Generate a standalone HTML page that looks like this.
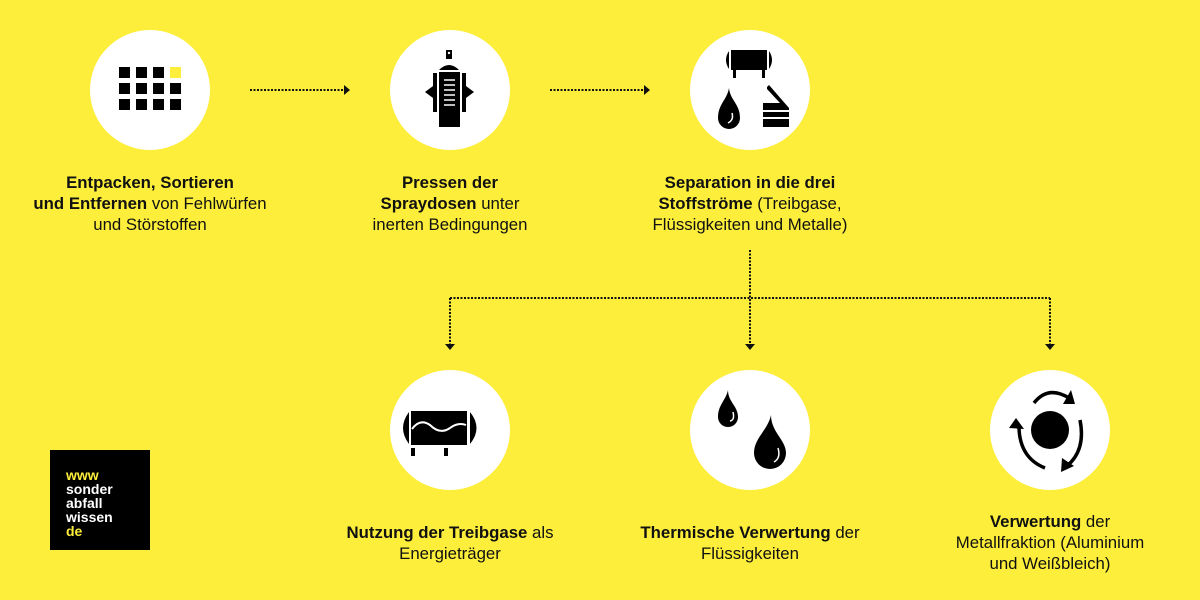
<!DOCTYPE html>
<html><head><meta charset="utf-8"><style>
html,body{margin:0;padding:0;background:#fcee3a;}
svg{display:block}
text{font-family:"Liberation Sans",sans-serif;font-size:16.8px;fill:#111;}
.b{font-weight:bold}
</style></head><body>
<svg width="1200" height="600" viewBox="0 0 1200 600" xmlns="http://www.w3.org/2000/svg">
<rect width="1200" height="600" fill="#fcee3a"/>
<g fill="#fff">
<circle cx="150" cy="90" r="60"/><circle cx="450" cy="90" r="60"/><circle cx="750" cy="90" r="60"/>
<circle cx="450" cy="430" r="60"/><circle cx="750" cy="430" r="60"/><circle cx="1050" cy="430" r="60"/>
</g>
<g stroke="#111" stroke-width="2" stroke-dasharray="2,1.5" fill="none">
<line x1="250" y1="90" x2="345" y2="90"/>
<line x1="550" y1="90" x2="645" y2="90"/>
<line x1="750" y1="250" x2="750" y2="344"/>
<line x1="450" y1="298" x2="1050" y2="298"/>
<line x1="450" y1="298" x2="450" y2="344"/>
<line x1="1050" y1="298" x2="1050" y2="344"/>
</g>
<g fill="#111">
<polygon points="344,85 350,90 344,95"/>
<polygon points="644,85 650,90 644,95"/>
<polygon points="445,344 455,344 450,350"/>
<polygon points="745,344 755,344 750,350"/>
<polygon points="1045,344 1055,344 1050,350"/>
</g>
<g fill="#000">
<rect x="119" y="67" width="11" height="11"/><rect x="136" y="67" width="11" height="11"/><rect x="153" y="67" width="11" height="11"/>
<rect x="170" y="67" width="11" height="11" fill="#fcee3a"/>
<rect x="119" y="83" width="11" height="11"/><rect x="136" y="83" width="11" height="11"/><rect x="153" y="83" width="11" height="11"/><rect x="170" y="83" width="11" height="11"/>
<rect x="119" y="99" width="11" height="11"/><rect x="136" y="99" width="11" height="11"/><rect x="153" y="99" width="11" height="11"/><rect x="170" y="99" width="11" height="11"/>
</g>
<g fill="#000">
<rect x="446" y="50" width="6" height="9"/>
<path d="M439,70 Q449,60 459,70 Z"/>
<rect x="439" y="72" width="21" height="55"/>
<path d="M433,73 L437,73 L437,112 L433,112 L433,98 L425,92 L433,86Z"/>
<path d="M466,73 L462,73 L462,112 L466,112 L466,98 L474,92 L466,86Z"/>
</g>
<g stroke="#fff" stroke-width="1.5"><line x1="444" y1="80" x2="455" y2="80"/><line x1="444" y1="85" x2="455" y2="85"/><line x1="444" y1="90" x2="455" y2="90"/><line x1="444" y1="95" x2="455" y2="95"/><line x1="444" y1="100" x2="455" y2="100"/><line x1="444" y1="105" x2="455" y2="105"/></g>
<circle cx="449" cy="53" r="1.2" fill="#fff"/>
<g fill="#000">
<rect x="731" y="50" width="36" height="20"/>
<path d="M729,51 Q723,60 729,69Z"/><path d="M769,51 Q775,60 769,69Z"/>
<rect x="733" y="70" width="3" height="8"/><rect x="762" y="70" width="3" height="8"/>
<path d="M729,88 C730,100 740,104 740,118 A11,11 0 0 1 718,118 C718,104 727,100 729,88Z"/>
<path d="M767,87 L769,85 L789,108 L789,110 L763,110 L763,103 L780,103 L767,89Z"/>
<rect x="763" y="112" width="26" height="5"/><rect x="763" y="119" width="26" height="8"/>
</g>
<path d="M732,113 Q734,120 728,123" stroke="#fff" stroke-width="1.5" fill="none"/>
<g fill="#000">
<rect x="411" y="411" width="56" height="34"/>
<path d="M409,412 Q397,428 409,444Z"/><path d="M470,412 Q483,428 470,444Z"/>
<rect x="411" y="448" width="4" height="8"/><rect x="444" y="448" width="4" height="8"/>
</g>
<path d="M412,429 Q420,418 430,425 Q440,435 450,428 Q458,422 466,425" stroke="#fff" stroke-width="2" fill="none"/>
<g fill="#000">
<path d="M728,390 C728,402 738,406 738,417 A10,10 0 0 1 718,417 C718,405 726,400 728,390Z"/>
<path d="M771,415 C771,432 786,440 786,453 A16,16 0 0 1 754,453 C754,438 768,430 771,415Z"/>
</g>
<path d="M733,412 Q735,420 730,421" stroke="#fff" stroke-width="1.5" fill="none"/>
<path d="M778,448 Q781,458 774,462" stroke="#fff" stroke-width="1.5" fill="none"/>
<circle cx="1050" cy="430" r="19" fill="#000"/>
<g stroke="#000" stroke-width="3.5" fill="none">
<path d="M1034,403 Q1048,385 1069,398"/>
<path d="M1080,420 Q1086,450 1067,466"/>
<path d="M1045,468 Q1020,458 1019,428"/>
</g>
<g fill="#000">
<polygon points="1071,390 1075,404 1063,404"/>
<polygon points="1061,472 1062,458 1074,466"/>
<polygon points="1009,428 1024,429 1016,418"/>
</g>
<g text-anchor="middle">
<text x="150" y="188"><tspan class="b">Entpacken, Sortieren</tspan></text>
<text x="150" y="209"><tspan class="b">und Entfernen</tspan> von Fehlwürfen</text>
<text x="150" y="230">und Störstoffen</text>
<text x="450" y="188" class="b">Pressen der</text>
<text x="450" y="209"><tspan class="b">Spraydosen</tspan> unter</text>
<text x="450" y="230">inerten Bedingungen</text>
<text x="750" y="188" class="b">Separation in die drei</text>
<text x="750" y="209"><tspan class="b">Stoffströme</tspan> (Treibgase,</text>
<text x="750" y="230">Flüssigkeiten und Metalle)</text>
<text x="450" y="538"><tspan class="b">Nutzung der Treibgase</tspan> als</text>
<text x="450" y="559">Energieträger</text>
<text x="750" y="538"><tspan class="b">Thermische Verwertung</tspan> der</text>
<text x="750" y="559">Flüssigkeiten</text>
<text x="1050" y="527"><tspan class="b">Verwertung</tspan> der</text>
<text x="1050" y="548">Metallfraktion (Aluminium</text>
<text x="1050" y="569">und Weißbleich)</text>
</g>
<rect x="50" y="450" width="100" height="100" fill="#000"/>
<text x="66" y="480" style="fill:#fcee3a;font-size:14px;font-weight:bold">www</text>
<text x="66" y="494" style="fill:#fff;font-size:14px;font-weight:bold">sonder</text>
<text x="66" y="508" style="fill:#fff;font-size:14px;font-weight:bold">abfall</text>
<text x="66" y="522" style="fill:#fff;font-size:14px;font-weight:bold">wissen</text>
<text x="66" y="536" style="fill:#fcee3a;font-size:14px;font-weight:bold">de</text>
</svg>
</body></html>
